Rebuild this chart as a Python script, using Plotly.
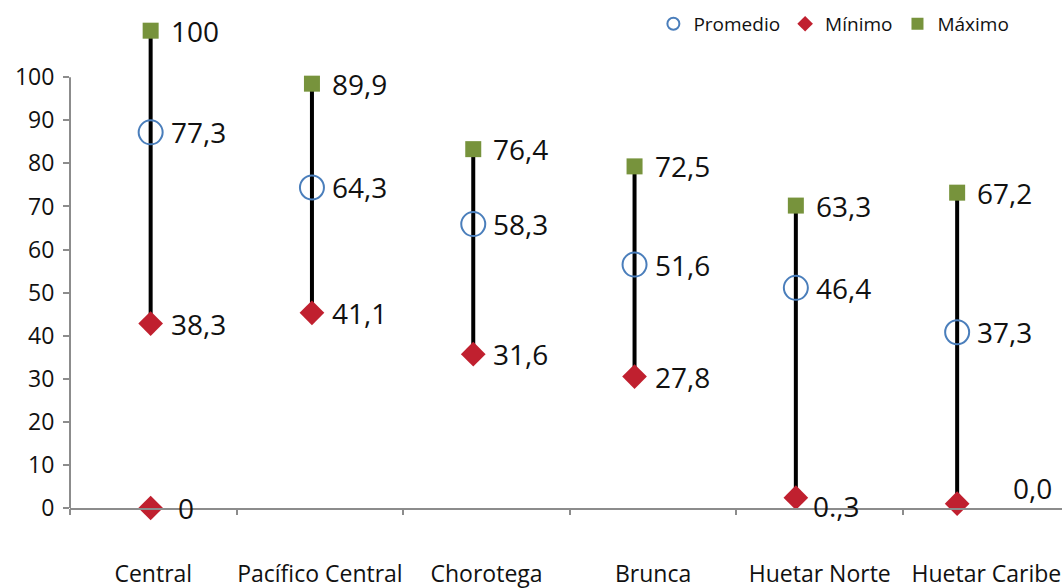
import plotly.graph_objects as go

# ---------------- data ----------------
categories = ["Central", "Pacífico Central", "Chorotega", "Brunca", "Huetar Norte", "Huetar Caribe"]
maximo = [110.8, 98.5, 83.3, 79.3, 70.2, 73.2]
promedio = [87.2, 74.4, 65.9, 56.5, 51.1, 40.8]
minimo = [42.8, 45.3, 35.7, 30.5, 2.4, 1.0]
maximo_labels = ["100", "89,9", "76,4", "72,5", "63,3", "67,2"]
promedio_labels = ["77,3", "64,3", "58,3", "51,6", "46,4", "37,3"]
minimo_labels = ["38,3", "41,1", "31,6", "27,8", "0.,3", "0,0"]
extra_min_category = ["Central"]
extra_min_value = [0.0]
extra_min_label = ["0"]
y_ticks = list(range(0, 101, 10))

# ---------------- style ----------------
FONT = "Open Sans, Noto Sans, sans-serif"
AXIS_GREY = "#8C8C8C"
TXT = "#111111"
C_PROM = "#4A7EBB"
C_MIN = "#C0202F"
C_MAX = "#77933C"
LABEL_SIZE = 28
# per-label offsets (px) for special minimum labels
min_dx = [18, 18, 18, 18, 15, 54]
min_dy = [0, 0, 0, 0, -8, 16]
extra_dx = [25]

n = len(categories)

fig = go.Figure()

# vertical hi-lo lines
lx, ly = [], []
for c, hi, lo in zip(categories, maximo, minimo):
    lx += [c, c, None]
    ly += [hi, lo, None]
fig.add_trace(go.Scatter(x=lx, y=ly, mode="lines", xaxis="x3", yaxis="y",
                         line=dict(color="black", width=4), showlegend=False,
                         hoverinfo="skip"))

fig.add_trace(go.Scatter(x=categories, y=promedio, mode="markers", name="Promedio",
                         xaxis="x3", yaxis="y", cliponaxis=False,
                         marker=dict(symbol="circle-open", size=24, color=C_PROM,
                                     line=dict(width=2, color=C_PROM))))
fig.add_trace(go.Scatter(x=categories + extra_min_category, y=minimo + extra_min_value,
                         mode="markers", name="Mínimo", xaxis="x3", yaxis="y", cliponaxis=False,
                         marker=dict(symbol="diamond", size=19, color=C_MIN)))
fig.add_trace(go.Scatter(x=categories, y=maximo, mode="markers", name="Máximo",
                         xaxis="x3", yaxis="y", cliponaxis=False,
                         marker=dict(symbol="square", size=16, color=C_MAX)))

# invisible helper traces so the category / tick-mark axes render
fig.add_trace(go.Scatter(x=[0.5], y=[0], xaxis="x", yaxis="y", mode="markers",
                         marker=dict(opacity=0), showlegend=False, hoverinfo="skip"))
fig.add_trace(go.Scatter(x=[0.5], y=[0], xaxis="x2", yaxis="y", mode="markers",
                         marker=dict(opacity=0), showlegend=False, hoverinfo="skip"))

annotations = []
def add_label(cat, val, txt, dx=18, dy=0):
    annotations.append(dict(x=cat, y=val, xref="x3", yref="y", text=txt,
                            xanchor="left", yanchor="middle", xshift=dx, yshift=dy,
                            showarrow=False, font=dict(family=FONT, size=LABEL_SIZE, color=TXT)))

for i in range(n):
    add_label(categories[i], maximo[i], maximo_labels[i])
    add_label(categories[i], promedio[i], promedio_labels[i])
    add_label(categories[i], minimo[i], minimo_labels[i], min_dx[i], min_dy[i])
for c, v, t, dx in zip(extra_min_category, extra_min_value, extra_min_label, extra_dx):
    add_label(c, v, t, dx)

x_main_range = [0, 5.954]
fig.update_layout(
    width=1062, height=588,
    margin=dict(l=70, r=0, t=10, b=80, autoexpand=False),
    paper_bgcolor="white", plot_bgcolor="white",
    font=dict(family=FONT, color=TXT),
    showlegend=True,
    legend=dict(orientation="h", x=0.952, xanchor="right", y=0.972, yanchor="middle",
                font=dict(family=FONT, size=19, color=TXT), bgcolor="rgba(0,0,0,0)",
                itemsizing="constant", traceorder="normal"),
    xaxis=dict(range=x_main_range, tickvals=[i + 0.5 for i in range(n)], ticktext=categories,
               ticks="", showline=True, linecolor=AXIS_GREY, linewidth=2,
               showgrid=False, zeroline=False, tickfont=dict(family=FONT, size=23, color=TXT),
               ticklabelstandoff=44, ticklabeloverflow="allow", automargin=False),
    xaxis2=dict(range=x_main_range, overlaying="x", anchor="y", side="bottom",
                tickvals=list(range(n + 1)), ticks="outside", ticklen=6, tickwidth=2,
                tickcolor=AXIS_GREY, showticklabels=False, showline=False,
                showgrid=False, zeroline=False),
    xaxis3=dict(type="category", categoryorder="array", categoryarray=categories,
                range=[-0.5, 5.65], overlaying="x", anchor="y", visible=False),
    yaxis=dict(range=[0, 115.6], tickvals=y_ticks, ticks="outside", ticklen=6, tickwidth=2,
               tickcolor=AXIS_GREY, showline=False, showgrid=False, zeroline=False,
               tickfont=dict(family=FONT, size=23, color=TXT), ticklabelstandoff=4,
               automargin=False),
    shapes=[dict(type="line", xref="paper", yref="y", x0=0, x1=0, y0=y_ticks[0], y1=y_ticks[-1],
                 line=dict(color=AXIS_GREY, width=2))],
    annotations=annotations,
)

fig.write_html("out.html", config={"displayModeBar": False},
               post_script="document.body.style.margin='0';document.body.style.overflow='hidden';")
